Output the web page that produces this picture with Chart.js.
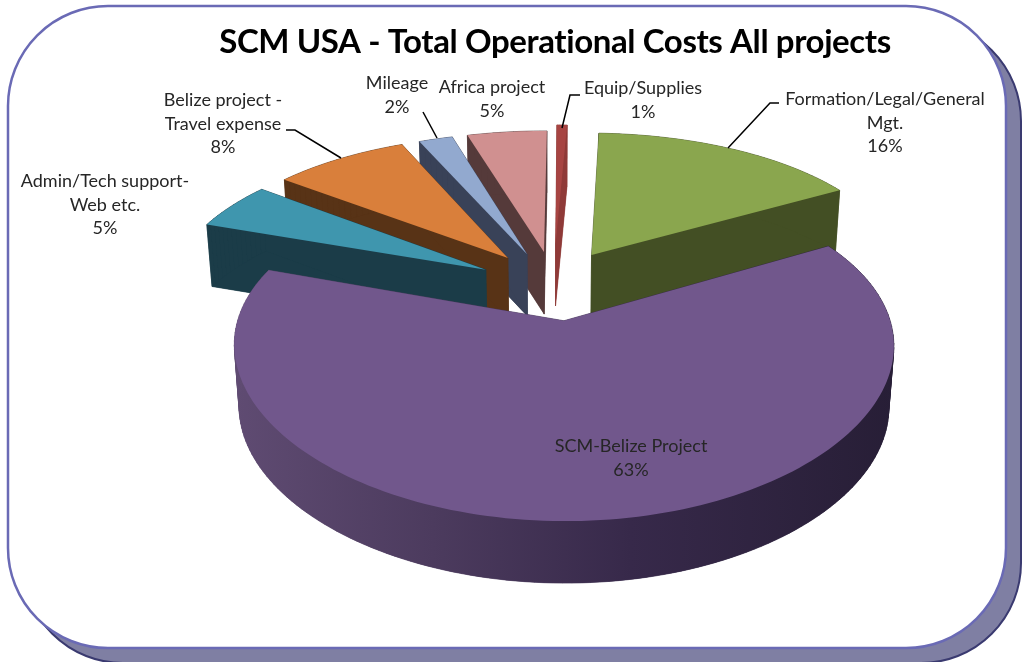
<!DOCTYPE html>
<html>
<head>
<meta charset="utf-8">
<title>SCM USA - Total Operational Costs All projects</title>
<script src="https://cdn.jsdelivr.net/npm/chart.js@4"></script>
<style>
    html, body { margin: 0; padding: 0; background: #fff; }
    canvas { display: block; }
</style>
</head>
<body>
<canvas id="costChart" width="1023" height="662"></canvas>
<script>
const titleText = "SCM USA - Total Operational Costs All projects";
const categories = ["Formation/Legal/General Mgt.", "SCM-Belize Project", "Admin/Tech support- Web etc.", "Belize project - Travel expense", "Mileage", "Africa project", "Equip/Supplies"];
const costShare = [16, 63, 5, 8, 2, 4.7, 0.6];

// wrapped label text, same order as categories
const labelLines = [
    ["Formation/Legal/General", "Mgt."],
    ["SCM-Belize Project"],
    ["Admin/Tech support-", "Web etc."],
    ["Belize project -", "Travel expense"],
    ["Mileage"],
    ["Africa project"],
    ["Equip/Supplies"]
];

// styling
const topColors = ["#8aa64e", "#71578c", "#3f96ae", "#d97f3b", "#92a9cf", "#d09090", "#a74442"];
const sideColors = ["#434f24", null, "#1b3c48", "#583316", "#394258", "#553a3a", "#8f3a38"];
const explode = [20, 27, 23, 20.7, 19, 18.5, 24];        // percent of radius
const explodeTurn = [5, -0.5, -13, -9.2, -8.3, -3, -1];  // degrees
const drawOrder = [0, 6, 5, 4, 3, 2, 1];
const labelPlace = [[885, 99], [631, 446], [105, 181], [223, 100], [397, 83], [492, 87], [643, 88]];
const leaders = [
    [[779, 103], [770, 103], [728, 148]],
    null,
    null,
    [[286, 130], [295, 130], [341, 158]],
    [[423, 112], [437, 138]],
    null,
    [[580, 95], [570, 95], [562, 128]]
];

// plane to screen, the tilted pie
const view = { cx: 555, cy: 278.5, a: 314, b: 150, px: 0.14, py: 0.17, depth: 62, shrink: 0.985 };

function project(u, v) {
    return {
        x: view.cx + view.a * u / (1 - view.px * v),
        y: view.cy + view.b * v / (1 - view.py * v)
    };
}

function drop(pt) {
    return { x: view.cx + (pt.x - view.cx) * view.shrink, y: pt.y + view.depth };
}

function sliceOutline(arc, i) {
    const mid = (arc.startAngle + arc.endAngle) / 2 + explodeTurn[i] * Math.PI / 180;
    const e = arc.options.offset / 100;
    const ou = e * Math.cos(mid);
    const ov = e * Math.sin(mid);
    const pts = [project(ou, ov)];
    const steps = Math.max(4, Math.ceil((arc.endAngle - arc.startAngle) * 40));
    for (let s = 0; s <= steps; s++) {
        const a = arc.startAngle + (arc.endAngle - arc.startAngle) * s / steps;
        pts.push(project(ou + Math.cos(a), ov + Math.sin(a)));
    }
    return pts;
}

function fillPoly(ctx, pts, color) {
    ctx.beginPath();
    pts.forEach((p, n) => n ? ctx.lineTo(p.x, p.y) : ctx.moveTo(p.x, p.y));
    ctx.closePath();
    ctx.fillStyle = color;
    ctx.fill();
}

function roundedBox(ctx, x, y, w, h, r) {
    ctx.beginPath();
    ctx.roundRect(x, y, w, h, r);
}

const pie3d = {
    id: "pie3d",
    beforeDraw(chart) {
        const ctx = chart.ctx;
        ctx.save();
        roundedBox(ctx, 23, 21, 998, 642, 100);
        ctx.fillStyle = "#7f7fa3";
        ctx.fill();
        ctx.strokeStyle = "#3a3a70";
        ctx.lineWidth = 2;
        ctx.stroke();
        roundedBox(ctx, 8, 6, 998, 642, 100);
        ctx.fillStyle = "#ffffff";
        ctx.fill();
        ctx.strokeStyle = "#6a6ab5";
        ctx.lineWidth = 2.5;
        ctx.stroke();
        ctx.restore();
    },
    beforeDatasetsDraw(chart) {
        const ctx = chart.ctx;
        const arcs = chart.getDatasetMeta(0).data;
        const wallFill = ctx.createLinearGradient(235, 0, 895, 0);
        wallFill.addColorStop(0, "#5f4b72");
        wallFill.addColorStop(0.3, "#4c3b5e");
        wallFill.addColorStop(0.6, "#37294a");
        wallFill.addColorStop(1, "#271e36");
        ctx.save();
        drawOrder.forEach(i => {
            const top = sliceOutline(arcs[i], i);
            const low = top.map(drop);
            const wall = sideColors[i] || wallFill;
            top.forEach((p, n) => {
                const m = (n + 1) % top.length;
                fillPoly(ctx, [p, top[m], low[m], low[n]], wall);
                ctx.strokeStyle = wall;
                ctx.lineWidth = 0.6;
                ctx.stroke();
            });
            fillPoly(ctx, low, wall);
            fillPoly(ctx, top, topColors[i]);
        });
        ctx.restore();
        return false;
    },
    afterDraw(chart) {
        const ctx = chart.ctx;
        const total = costShare.reduce((a, b) => a + b, 0);
        ctx.save();
        ctx.textAlign = "center";
        ctx.textBaseline = "middle";
        ctx.fillStyle = "#000000";
        ctx.font = "bold 33px Lato";
        ctx.letterSpacing = "-0.4px";
        ctx.fillText(titleText, 555, 42);

        ctx.fillStyle = "#262626";
        ctx.font = "18px Lato";
        ctx.letterSpacing = "0px";
        categories.forEach((name, i) => {
            const lines = labelLines[i].concat(Math.round(costShare[i] / total * 100) + "%");
            lines.forEach((line, n) => {
                ctx.fillText(line, labelPlace[i][0], labelPlace[i][1] + n * 23.7);
            });
        });

        ctx.strokeStyle = "#000000";
        ctx.lineWidth = 1.5;
        leaders.forEach(path => {
            if (!path) return;
            ctx.beginPath();
            path.forEach((p, n) => n ? ctx.lineTo(p[0], p[1]) : ctx.moveTo(p[0], p[1]));
            ctx.stroke();
        });
        ctx.restore();
    }
};

new Chart(document.getElementById("costChart"), {
    type: "pie",
    data: {
        labels: categories,
        datasets: [{
            data: costShare,
            backgroundColor: topColors,
            offset: explode,
            borderWidth: 0
        }]
    },
    options: {
        responsive: false,
        animation: false,
        rotation: 2.5,
        plugins: {
            legend: { display: false },
            tooltip: { enabled: false }
        }
    },
    plugins: [pie3d]
});
</script>
</body>
</html>
